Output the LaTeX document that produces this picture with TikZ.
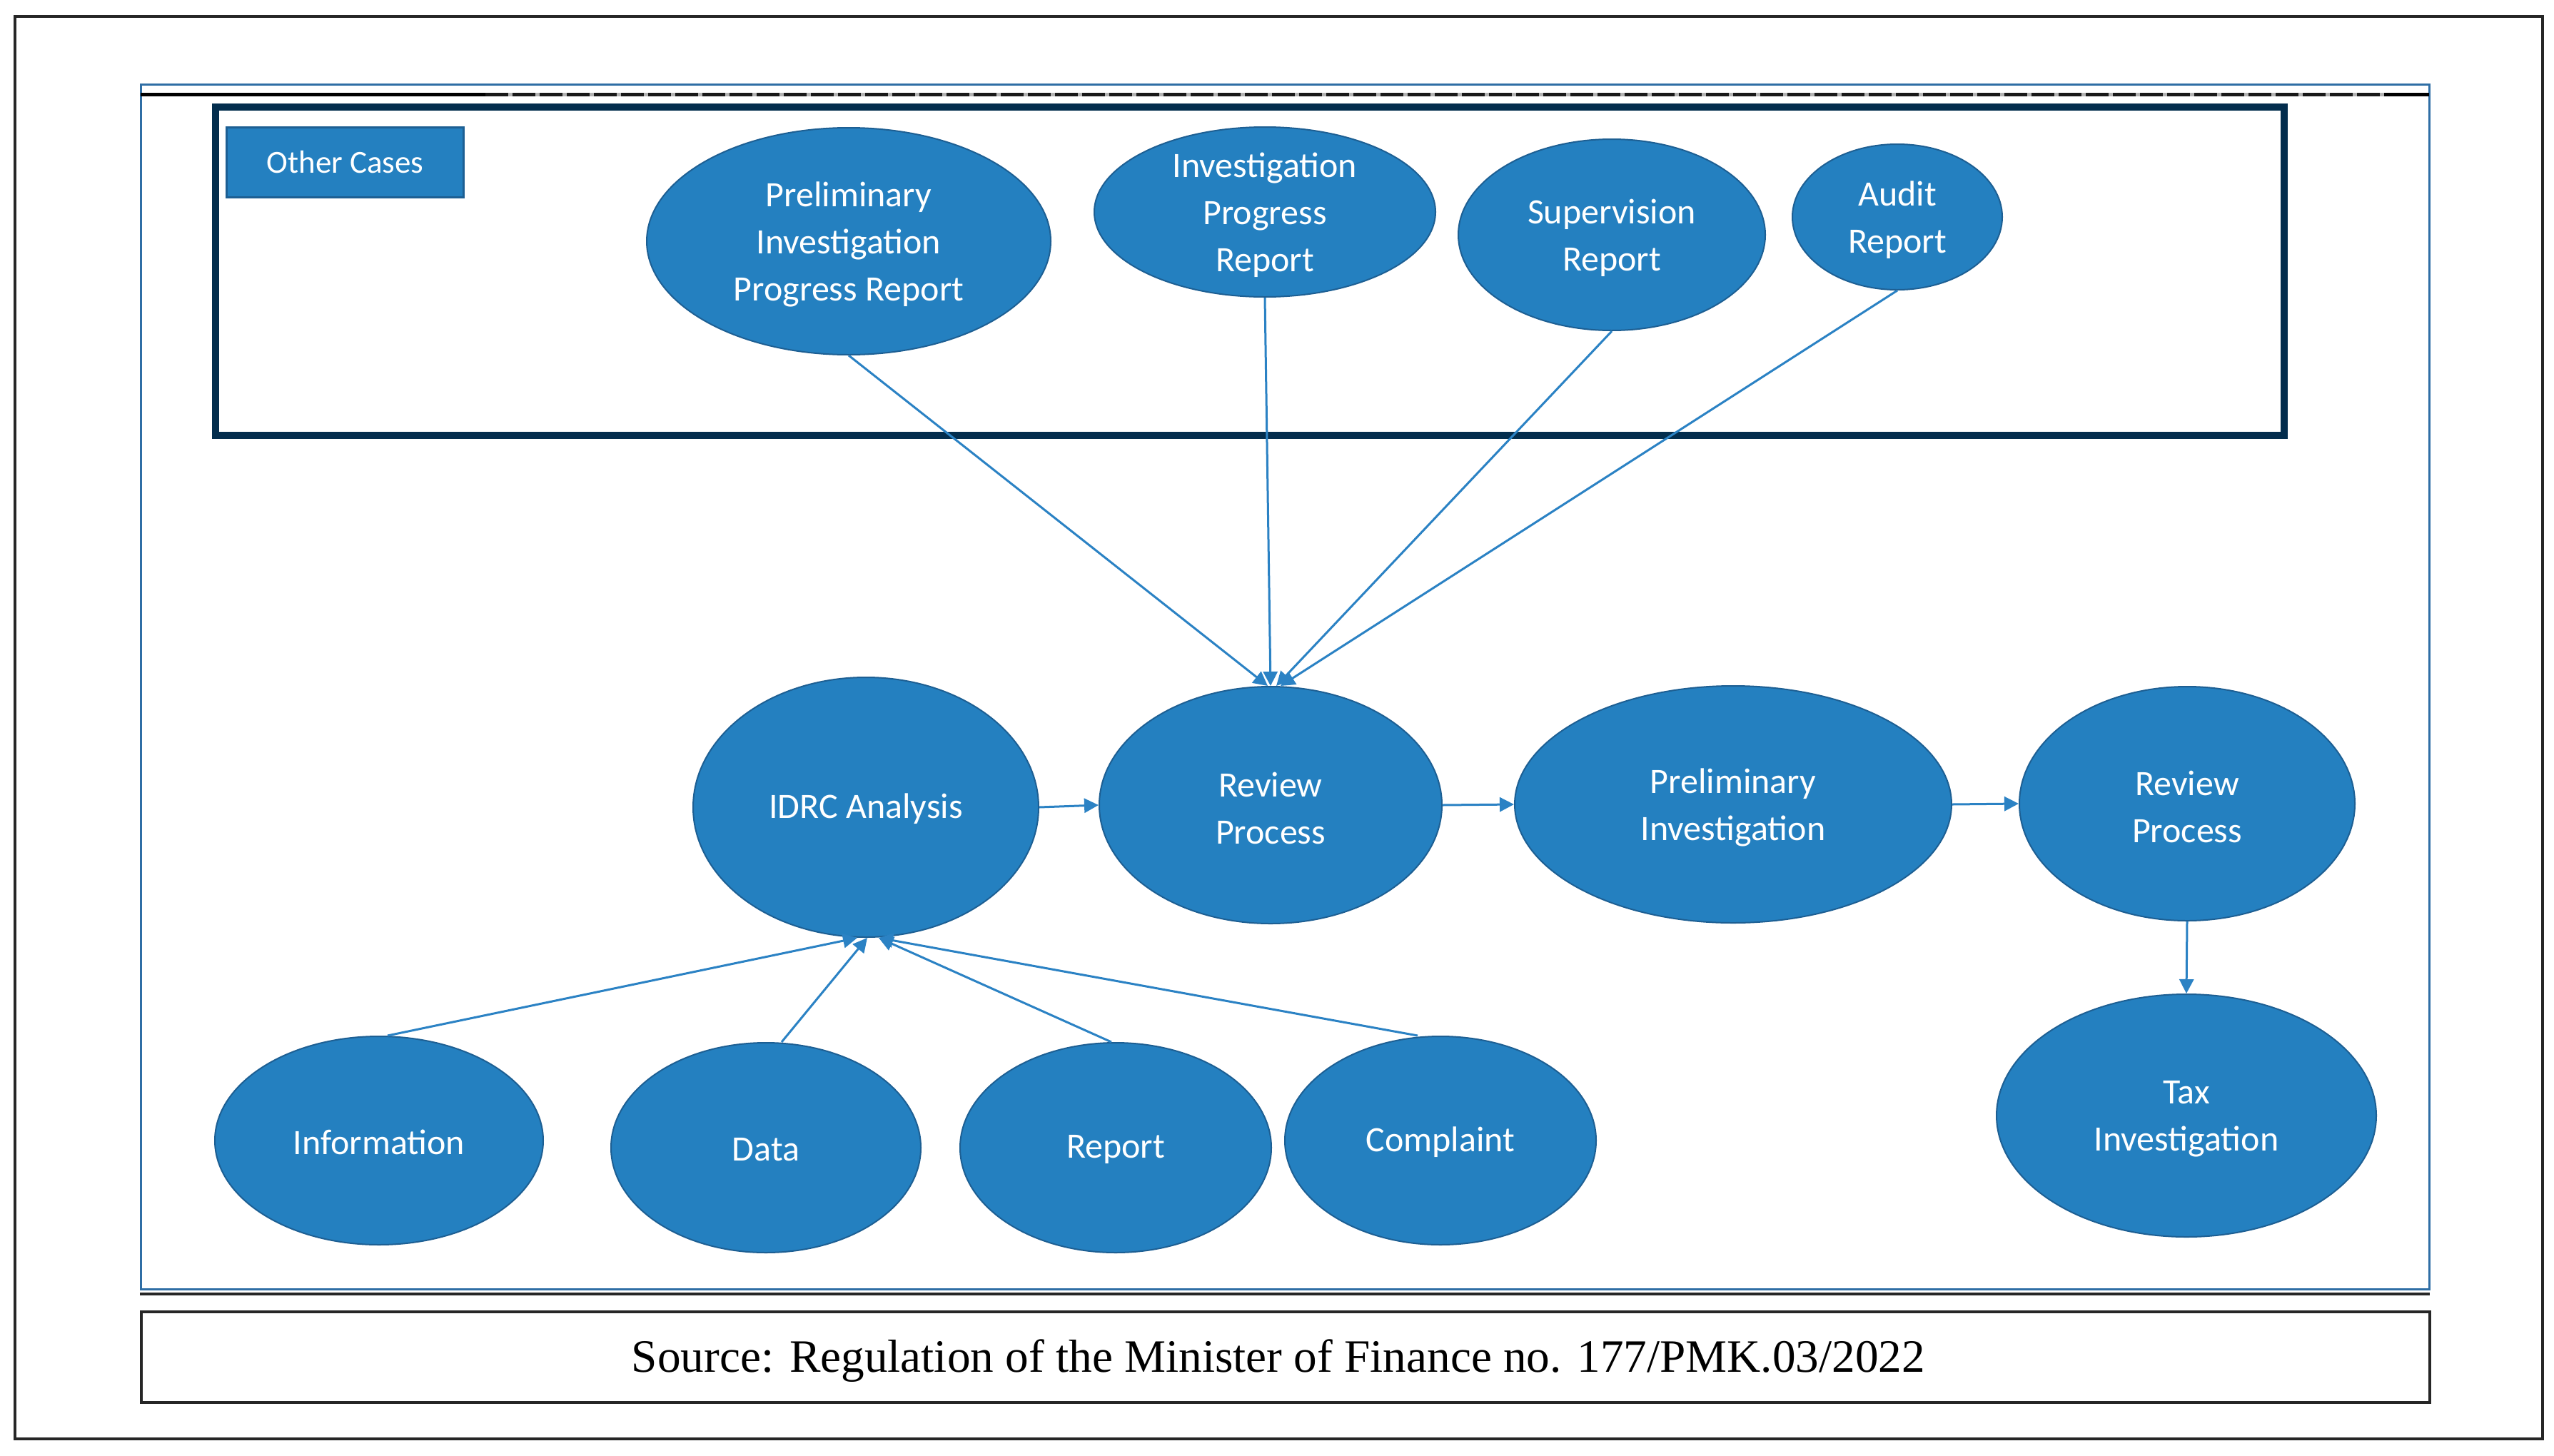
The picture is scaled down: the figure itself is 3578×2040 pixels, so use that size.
\documentclass[tikz,border=0pt]{standalone}
\usepackage{graphicx}
\usepackage{fontspec}
\setmainfont{Carlito}
\newfontfamily\srcfont{Liberation Serif}
\usetikzlibrary{shapes.geometric,arrows.meta}
\definecolor{nodeblue}{HTML}{2480C0}
\definecolor{nodeedge}{HTML}{1D5F93}
\definecolor{navy}{HTML}{032D4D}
\definecolor{linkblue}{HTML}{2B82C4}
\definecolor{frameblue}{HTML}{2F6EA5}
\begin{document}
\begin{tikzpicture}[x=0.5pt,y=-0.5pt,
  oval/.style={ellipse, draw=nodeedge, line width=1pt, fill=nodeblue, inner sep=0pt},
  txt/.style={text=white, align=center, inner sep=0pt, yshift=-2.2pt, font=\fontsize{25}{33}\selectfont},
  txtone/.style={txt, yshift=1pt},
  link/.style={draw=linkblue, line width=1.5pt, -{Triangle[length=10pt,width=10pt]}}]
\useasboundingbox (0,0) rectangle (3578,2040);
\fill[white] (0,0) rectangle (3578,2040);

% frames
\draw[black!85, line width=2pt] (21,23) rectangle (3562,2016);
\draw[frameblue, line width=1.5pt] (197,118) rectangle (3403,1806);
\draw[black!30, line width=2.5pt] (680,132) -- (3340,132);
\draw[black, line width=2.5pt] (197,132) -- (680,132);
\draw[black!90, line width=2.5pt, dash pattern=on 16pt off 3pt] (680,132) -- (3340,132);
\draw[black, line width=2.5pt] (3340,132) -- (3403,132);
\draw[black!85, line width=2pt] (196,1813) -- (3404,1813);
\draw[navy, line width=5pt] (302,150) rectangle (3200,610);

\node[draw=nodeedge, fill=nodeblue, line width=1.5pt, minimum width=166pt, minimum height=49pt,
      text=white, font=\fontsize{22.5}{27}\selectfont, inner sep=0pt] (oc) at (483.5,227) {Other Cases};

% top ellipses
\node[oval, minimum width=283pt, minimum height=159pt] (pipr) at (1189,338) {};
\node[txt] (pipr-t) at (pipr) {Preliminary\\Investigation\\Progress Report};
\node[oval, minimum width=239pt, minimum height=119pt] (ipr) at (1772,297) {};
\node[txt] (ipr-t) at (ipr) {Investigation\\Progress\\Report};
\node[oval, minimum width=215pt, minimum height=134pt] (sup) at (2258,329) {};
\node[txt] (sup-t) at (sup) {Supervision\\Report};
\node[oval, minimum width=147pt, minimum height=102pt] (aud) at (2658,304) {};
\node[txt] (aud-t) at (aud) {Audit\\Report};

% middle row
\node[oval, minimum width=242pt, minimum height=182pt] (idrc) at (1213,1131) {};
\node[txtone] (idrc-t) at (idrc) {IDRC Analysis};
\node[oval, minimum width=240pt, minimum height=166pt] (rp1) at (1780,1128) {};
\node[txt] (rp1-t) at (rp1) {Review\\Process};
\node[oval, minimum width=306pt, minimum height=166pt] (pi) at (2428,1127) {};
\node[txt] (pi-t) at (pi) {Preliminary\\Investigation};
\node[oval, minimum width=235pt, minimum height=164pt] (rp2) at (3064,1126) {};
\node[txt] (rp2-t) at (rp2) {Review\\Process};
\node[oval, minimum width=266pt, minimum height=170pt] (tax) at (3063,1563) {};
\node[txt] (tax-t) at (tax) {Tax\\Investigation};

% bottom row
\node[oval, minimum width=230pt, minimum height=146pt] (info) at (531,1598) {};
\node[txtone] (info-t) at (info) {Information};
\node[oval, minimum width=217pt, minimum height=147pt] (data) at (1073,1608) {};
\node[txtone] (data-t) at (data) {Data};
\node[oval, minimum width=218pt, minimum height=147pt] (rep) at (1563,1608) {};
\node[txtone] (rep-t) at (rep) {Report};
\node[oval, minimum width=218pt, minimum height=146pt] (comp) at (2018,1598) {};
\node[txtone] (comp-t) at (comp) {Complaint};

% connectors
\draw[link] (pipr.south) -- ([xshift=-2pt]rp1.north);
\draw[link] (ipr.south) -- (rp1.north);
\draw[link] (sup.south) -- ([xshift=4pt]rp1.north);
\draw[link] (aud.south) -- ([xshift=7pt]rp1.north);

\draw[link] ([xshift=6pt]info.north) -- ([xshift=-6pt]idrc.south);
\draw[link] ([xshift=11pt]data.north) -- ([xshift=1pt]idrc.south);
\draw[link] ([xshift=-3pt]rep.north) -- ([xshift=9pt]idrc.south);
\draw[link] ([xshift=-16pt]comp.north) -- ([xshift=9pt]idrc.south);

\draw[link] (idrc.east) -- (rp1.west);
\draw[link] (rp1.east) -- (pi.west);
\draw[link] (pi.east) -- (rp2.west);
\draw[link] (rp2.south) -- (tax.north);

% source
\node[draw=black!85, line width=2pt, minimum width=1603pt, minimum height=63.5pt, inner sep=0pt] (srcbox) at (1801,1901.5) {};
\node[anchor=base, inner sep=0pt] (src) at (1791,1922)
  {\resizebox{906pt}{\height}{\srcfont\fontsize{32.5}{39}\selectfont Source: Regulation of the Minister of Finance no. 177/PMK.03/2022}};
\end{tikzpicture}
\end{document}
